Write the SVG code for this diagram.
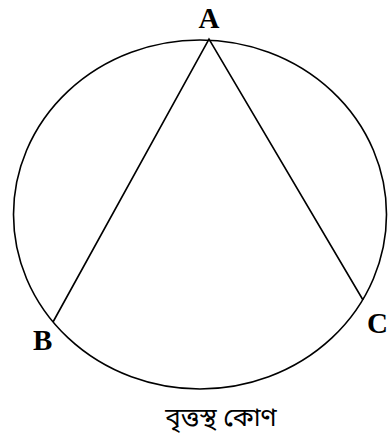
<svg xmlns="http://www.w3.org/2000/svg" width="390" height="441" viewBox="0 0 390 441">
<style>
.ln{fill:none;stroke:#000;stroke-width:1.6}
.lbl{font-family:"Liberation Serif","Times New Roman",serif;font-weight:bold;font-size:29px;fill:#000}
.bn{font-family:"Noto Sans","Noto Sans Bengali",sans-serif;font-size:26px;fill:#000}
</style>
<rect width="390" height="441" fill="#fff"/>
<g id="circle"><ellipse class="ln" cx="200" cy="214.5" rx="186.5" ry="174.5"/></g>
<g id="connectors">
<polyline class="ln" points="53,322 209,39 363,300"/>
</g>
<g id="labelA"><text class="lbl" x="209" y="28" text-anchor="middle">A</text></g>
<g id="labelB"><text class="lbl" x="33" y="350">B</text></g>
<g id="labelC"><text class="lbl" x="367" y="333">C</text></g>
<g id="caption"><text class="bn" x="221" y="426" text-anchor="middle">বৃত্তস্থ কোণ</text></g>
</svg>
